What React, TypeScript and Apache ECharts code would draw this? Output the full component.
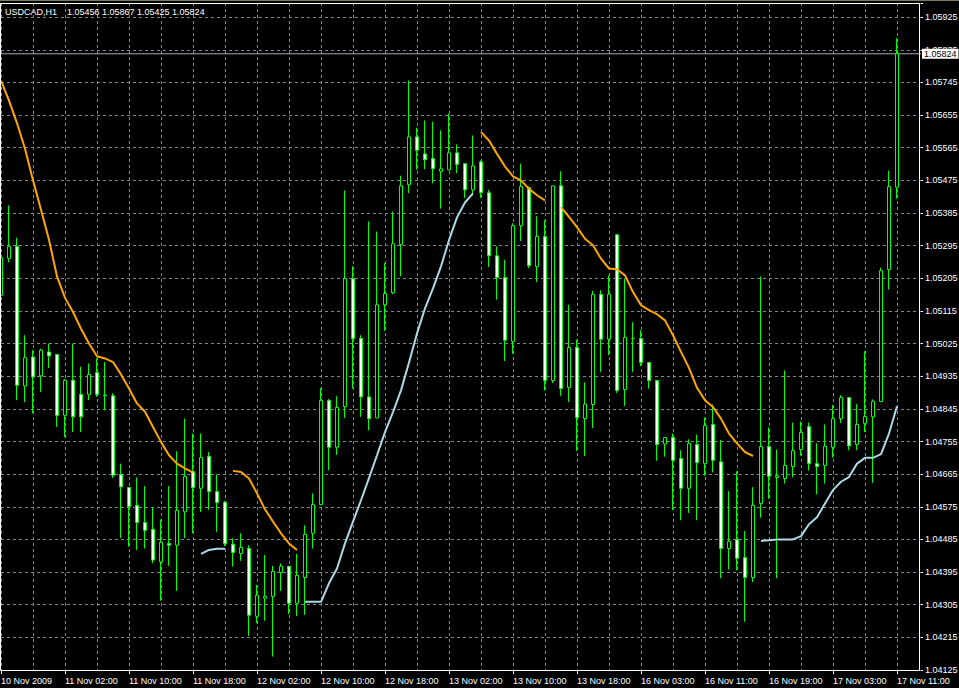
import React, { useEffect, useRef } from "react";
import * as echarts from "echarts";

const FONT = "'Liberation Sans', Arial, sans-serif";

// Trading sessions (hourly bars): [day, first hour, last hour]
const sessions: [string, number, number][] = [
  ["10 Nov", 18, 23],
  ["11 Nov", 0, 23],
  ["12 Nov", 0, 23],
  ["13 Nov", 0, 22],
  ["16 Nov", 0, 23],
  ["17 Nov", 0, 11],
];
const firstLabel = "10 Nov 2009";
const symbolName = "USDCAD,H1";
const yTickStart = 1.04125;
const yTickStep = 0.0009;
const yMax = 1.05964;

const opens = [
  1.05158, 1.0526, 1.05293, 1.04908, 1.04988, 1.04936, 1.05002, 1.04995, 1.04827, 1.04924,
  1.04885, 1.04885, 1.04945, 1.04883, 1.04881, 1.04664, 1.04628, 1.04579, 1.04532, 1.04513,
  1.04423, 1.04474, 1.04469, 1.04561, 1.04672, 1.04626, 1.04714, 1.04617, 1.04587, 1.04472,
  1.04446, 1.0446, 1.04273, 1.04323, 1.04328, 1.04394, 1.04411, 1.04309, 1.0438, 1.04502,
  1.04581, 1.04868, 1.04739, 1.04851, 1.05204, 1.05039, 1.04878, 1.0482, 1.05132, 1.05165,
  1.05298, 1.05463, 1.05595, 1.05548, 1.05535, 1.055, 1.05504, 1.05551, 1.05521, 1.05449,
  1.05526, 1.05441, 1.05267, 1.05207, 1.05031, 1.0535, 1.05455, 1.05237, 1.0532, 1.04923,
  1.0546, 1.04904, 1.05014, 1.04818, 1.04857, 1.05161, 1.05037, 1.05325, 1.04898, 1.05039,
  1.05039, 1.04973, 1.04923, 1.04748, 1.04766, 1.04708, 1.04626, 1.04747, 1.04694, 1.04802,
  1.04699, 1.0446, 1.04485, 1.04435, 1.0438, 1.04584, 1.04741, 1.04656, 1.04653, 1.04686,
  1.04733, 1.04796, 1.04694, 1.04689, 1.04739, 1.04818, 1.04876, 1.04747, 1.04805, 1.04823,
  1.04865, 1.05229, 1.05456,
];
const highs = [
  1.05429, 1.05406, 1.05317, 1.05048, 1.05007, 1.05011, 1.05025, 1.04996, 1.04927, 1.05025,
  1.04961, 1.0497, 1.04984, 1.04974, 1.04888, 1.04694, 1.04629, 1.04656, 1.04632, 1.04573,
  1.0454, 1.04632, 1.04728, 1.04818, 1.04777, 1.04777, 1.04726, 1.04664, 1.04591, 1.04488,
  1.04502, 1.04469, 1.04359, 1.04442, 1.04412, 1.04419, 1.04412, 1.04445, 1.04524, 1.04612,
  1.04902, 1.04872, 1.0488, 1.05447, 1.05238, 1.05048, 1.05362, 1.05334, 1.05247, 1.05389,
  1.05488, 1.0575, 1.0562, 1.0564, 1.05637, 1.05613, 1.05659, 1.05574, 1.05522, 1.05599,
  1.0553, 1.05449, 1.05293, 1.05256, 1.05357, 1.05521, 1.05458, 1.05376, 1.05365, 1.05461,
  1.055, 1.05132, 1.05036, 1.04918, 1.0517, 1.05172, 1.05213, 1.05326, 1.05204, 1.05084,
  1.05062, 1.04974, 1.04924, 1.04767, 1.04777, 1.04731, 1.04761, 1.04774, 1.04821, 1.04857,
  1.04759, 1.04618, 1.04673, 1.04508, 1.04629, 1.0521, 1.04794, 1.04733, 1.04951, 1.04807,
  1.0481, 1.04807, 1.0475, 1.04802, 1.04855, 1.04883, 1.04877, 1.04858, 1.05004, 1.04871,
  1.05234, 1.05502, 1.05867,
];
const lows = [
  1.05151, 1.05249, 1.04869, 1.04864, 1.04833, 1.04892, 1.04958, 1.04795, 1.04767, 1.04781,
  1.04781, 1.04869, 1.04878, 1.04841, 1.04654, 1.04489, 1.04465, 1.04456, 1.0446, 1.04419,
  1.04316, 1.04412, 1.04343, 1.04489, 1.04502, 1.04561, 1.04567, 1.04506, 1.04467, 1.0441,
  1.04426, 1.04219, 1.04254, 1.04261, 1.04162, 1.04343, 1.04279, 1.04274, 1.04277, 1.0446,
  1.04579, 1.04676, 1.04718, 1.0482, 1.04901, 1.04823, 1.04786, 1.04819, 1.0506, 1.05161,
  1.05211, 1.0544, 1.05504, 1.05506, 1.05467, 1.05397, 1.05503, 1.05495, 1.05426, 1.05434,
  1.05427, 1.05236, 1.05146, 1.04977, 1.04997, 1.05308, 1.05233, 1.05195, 1.04896, 1.04916,
  1.04881, 1.04864, 1.04729, 1.04715, 1.04792, 1.04947, 1.04993, 1.04889, 1.04853, 1.04947,
  1.04963, 1.04901, 1.04702, 1.04713, 1.04566, 1.04538, 1.04558, 1.04538, 1.04661, 1.0467,
  1.04378, 1.04402, 1.044, 1.04258, 1.04367, 1.04545, 1.04597, 1.04378, 1.04639, 1.04656,
  1.04716, 1.04675, 1.04609, 1.04639, 1.0471, 1.04806, 1.04731, 1.04731, 1.04781, 1.04641,
  1.04864, 1.05174, 1.05425,
];
const closes = [
  1.05262, 1.05293, 1.0491, 1.04986, 1.04933, 1.05007, 1.04991, 1.04827, 1.04924, 1.04823,
  1.04823, 1.0494, 1.04885, 1.04882, 1.04662, 1.0463, 1.04575, 1.04532, 1.0451, 1.04428,
  1.04477, 1.04469, 1.04565, 1.04659, 1.04628, 1.04711, 1.04617, 1.04587, 1.04473, 1.04449,
  1.04463, 1.04276, 1.04331, 1.04328, 1.04397, 1.04411, 1.04309, 1.04386, 1.04499, 1.04581,
  1.04868, 1.04739, 1.04849, 1.05204, 1.05039, 1.04878, 1.04818, 1.05132, 1.05163, 1.053,
  1.0546, 1.05595, 1.05558, 1.05532, 1.05507, 1.05507, 1.05551, 1.05519, 1.05449, 1.05515,
  1.05441, 1.05267, 1.05207, 1.05034, 1.0535, 1.05458, 1.0524, 1.0532, 1.04923, 1.0546,
  1.04901, 1.05014, 1.04821, 1.04858, 1.05161, 1.05037, 1.05161, 1.04896, 1.05042, 1.05039,
  1.04973, 1.04923, 1.04747, 1.04766, 1.04703, 1.04626, 1.0475, 1.04697, 1.04799, 1.04703,
  1.0446, 1.0448, 1.04433, 1.0438, 1.04579, 1.04741, 1.04659, 1.0466, 1.04689, 1.0473,
  1.0478, 1.04694, 1.04686, 1.04742, 1.04818, 1.04876, 1.04743, 1.04802, 1.04824, 1.04866,
  1.05226, 1.05458, 1.05824,
];

const N = null;
// Trailing indicator: falling (orange) part
const trendDown: (number | null)[] = [
  1.0575, 1.05695, 1.05633, 1.05562, 1.05475, 1.05394, 1.05311, 1.0521, 1.05151, 1.05112,
  1.05066, 1.05025, 1.0499, 1.04984, 1.04974, 1.0494, 1.04901, 1.0486, 1.04837, 1.04795,
  1.04754, 1.04717, 1.04694, 1.04681, 1.04669, N, N, N, N, 1.04674,
  1.04671, 1.04653, 1.04612, 1.04568, 1.04534, 1.04502, 1.04474, 1.04456, N, N,
  N, N, N, N, N, N, N, N, N, N,
  N, N, N, N, N, N, N, N, N, N,
  1.05608, 1.05585, 1.05548, 1.05513, 1.05486, 1.05475, 1.05452, 1.05434, 1.0542, N,
  1.05401, 1.05374, 1.05346, 1.05314, 1.05296, 1.05259, 1.05232, 1.0523, 1.05213, 1.05167,
  1.05131, 1.05117, 1.05106, 1.05089, 1.05048, 1.05002, 1.04958, 1.04903, 1.04869, 1.0485,
  1.04818, 1.04777, 1.0475, 1.04726, 1.04715, N, N, N, N, N,
  N, N, N, N, N, N, N, N, N, N,
  N, N, N,
];
// Trailing indicator: rising (light blue) part
const trendUp: (number | null)[] = [
  N, N, N, N, N, N, N, N, N, N,
  N, N, N, N, N, N, N, N, N, N,
  N, N, N, N, N, 1.04445, 1.04456, 1.04459, 1.04459, N,
  N, N, N, N, N, N, N, N, 1.04313, 1.04313,
  1.04313, 1.04364, 1.04405, 1.04474, 1.04534, 1.04593, 1.04654, 1.04717, 1.04781, 1.04836,
  1.04896, 1.04973, 1.05053, 1.05122, 1.05177, 1.05238, 1.0531, 1.05373, 1.05414, 1.05439,
  N, N, N, N, N, N, N, N, N, N,
  N, N, N, N, N, N, N, N, N, N,
  N, N, N, N, N, N, N, N, N, N,
  N, N, N, N, N, 1.04481, 1.04483, 1.04485, 1.04485, 1.04485,
  1.04494, 1.04527, 1.04546, 1.04584, 1.04621, 1.04644, 1.04657, 1.04694, 1.0471, 1.0471,
  1.0472, 1.04777, 1.04852,
];

const categories: string[] = [];
sessions.forEach(([day, from, to]) => {
  for (let h = from; h <= to; h++) categories.push(`${day} ${String(h).padStart(2, "0")}:00`);
});
const axisCats = [...categories, "pad-1", "pad-2", "pad-3"];

const isTick = (v: number) => {
  const k = (v - yTickStart) / yTickStep;
  return Math.abs(k - Math.round(k)) < 1e-4;
};

export default function App() {
  const ref = useRef<HTMLDivElement>(null);
  useEffect(() => {
    if (!ref.current) return;
    const chart = echarts.init(ref.current, null, { renderer: "svg" });
    const last = closes.length - 1;
    const lastClose = closes[last];
    const candleData = opens.map((o, i) => [o, closes[i], lows[i], highs[i]]);
    const priceLine = axisCats.map(() => lastClose);
    const gridLine = { color: "#778899", type: [3, 3] as any, width: 1 };
    chart.setOption({
      animation: false,
      backgroundColor: "#000000",
      grid: { left: 1, right: 38, top: 3, bottom: 18, show: false, containLabel: false, outerBoundsMode: "none" },
      xAxis: {
        type: "category",
        data: axisCats,
        boundaryGap: false,
        axisLine: { show: false },
        axisTick: { show: true, interval: 7, length: 4, lineStyle: { color: "#ffffff", width: 1 } },
        axisLabel: {
          interval: 7,
          align: "left",
          color: "#ffffff",
          fontSize: 9,
          fontFamily: FONT,
          margin: 6,
          formatter: (v: string, i: number) => (i === 0 ? firstLabel : i < categories.length ? v : ""),
        },
        splitLine: { show: true, interval: 3, lineStyle: gridLine },
      },
      yAxis: {
        type: "value",
        position: "right",
        min: yTickStart,
        max: yMax,
        interval: yTickStep,
        axisLine: { show: false },
        axisTick: { show: true, length: 2, lineStyle: { color: "#ffffff", width: 1 } },
        axisLabel: {
          color: "#ffffff",
          fontSize: 9,
          fontFamily: FONT,
          margin: 4,
          formatter: (v: number) => (isTick(v) ? v.toFixed(5) : ""),
        },
        splitLine: { show: true, lineStyle: gridLine },
      },
      series: [
        {
          type: "line",
          data: priceLine,
          symbol: "none",
          showSymbol: false,
          silent: true,
          clip: false,
          lineStyle: { color: "#a4a8b4", width: 1 },
          z: 1,
          endLabel: {
            show: true,
            distance: 1,
            formatter: () => lastClose.toFixed(5),
            backgroundColor: "#ffffff",
            color: "#000000",
            fontSize: 9,
            fontFamily: FONT,
            padding: [1, 2, 0, 2],
          },
        },
        {
          type: "candlestick",
          data: candleData,
          barWidth: 4,
          clip: false,
          z: 2,
          itemStyle: {
            color: "#000000",
            color0: "#ffffff",
            borderColor: "#00ff00",
            borderColor0: "#00ff00",
            borderColorDoji: "#00ff00",
            borderWidth: 1,
          },
        },
        {
          type: "line",
          data: trendDown,
          symbol: "none",
          showSymbol: false,
          connectNulls: false,
          lineStyle: { color: "#FFA500", width: 2 },
          z: 3,
        },
        {
          type: "line",
          data: trendUp,
          symbol: "none",
          showSymbol: false,
          connectNulls: false,
          lineStyle: { color: "#ADD8E6", width: 2 },
          z: 3,
        },
      ],
      graphic: [
        {
          type: "line",
          silent: true,
          z: 100,
          shape: { x1: 0, y1: 0.5, x2: 959, y2: 0.5 },
          style: { stroke: "#7a7a60", lineWidth: 1 },
        },
        {
          type: "rect",
          silent: true,
          z: 100,
          shape: { x: 0.5, y: 3.5, width: 919, height: 667 },
          style: { fill: "none", stroke: "#ffffff", lineWidth: 1 },
        },
        {
          type: "text",
          silent: true,
          z: 101,
          x: 5,
          y: 7,
          style: { text: symbolName, fill: "#ffffff", fontSize: 9, fontFamily: FONT, verticalAlign: "top" },
        },
        {
          type: "text",
          silent: true,
          z: 101,
          x: 67,
          y: 7,
          style: {
            text: [opens[last], highs[last], lows[last], closes[last]].map((v) => v.toFixed(5)).join(" "),
            fill: "#ffffff",
            fontSize: 9,
            fontFamily: FONT,
            verticalAlign: "top",
          },
        },
      ],
    });
    return () => chart.dispose();
  }, []);
  return (
    <div
      ref={ref}
      style={{ position: "fixed", left: 0, top: 0, width: 959, height: 688, background: "#000000" }}
    />
  );
}
